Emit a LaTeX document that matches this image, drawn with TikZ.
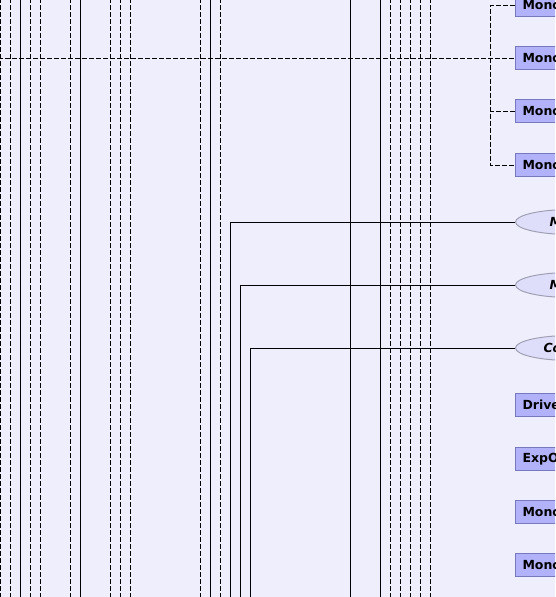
\documentclass[tikz,border=0pt]{standalone}
\usepackage{fontspec}
\setsansfont{DejaVu Sans}
\usetikzlibrary{shapes.geometric,positioning}

\definecolor{bgcol}{RGB}{238,238,252}
\definecolor{classfill}{RGB}{178,178,250}
\definecolor{classline}{RGB}{120,120,190}
\definecolor{ifacefill}{RGB}{222,222,250}
\definecolor{ifaceline}{RGB}{160,160,180}

\tikzset{
  classbox/.style={draw=classline, fill=classfill, anchor=west,
    minimum height=23pt, text width=70pt, align=left,
    inner xsep=7pt, inner ysep=0pt,
    font=\sffamily\bfseries\fontsize{12.5}{14}\selectfont},
  ifacebox/.style={ellipse, draw=ifaceline, fill=ifacefill, anchor=west,
    minimum height=25pt, minimum width=110pt, inner sep=0pt},
  ifacetext/.style={anchor=west, inner sep=0pt,
    font=\sffamily\bfseries\itshape\fontsize{12.5}{14}\selectfont},
  dep/.style={dashed, dash pattern=on 5pt off 2pt},
  link/.style={line width=1pt},
}

\begin{document}
\begin{tikzpicture}[x=1pt, y=-1pt, line width=1pt]

  % Background and frame
  \fill[bgcol] (0,0) rectangle (555,597);
  \useasboundingbox (0,0) rectangle (555,597);
  \clip (0,0) rectangle (555,597);

  % Lifelines coming from outside the view
  \foreach \x in {0.5,10.5,30.5,40.5,70.5,110.5,120.5,130.5,200.5,220.5,390.5,400.5,410.5,420.5,430.5}
    \draw[dep] (\x,-2) -- (\x,600);
  \foreach \x in {20.5,80.5,210.5,350.5,380.5}
    \draw[link] (\x,-2) -- (\x,600);

  % Classes on the right
  \node[classbox] (mono1) at (515,5)   {Mono};
  \node[classbox] (mono2) at (515,58)  {Mono};
  \node[classbox] (mono3) at (515,111) {Mono};
  \node[classbox] (mono4) at (515,165) {Mono};

  % Interfaces
  \node[ifacebox] (mgrA) at (515,222) {};
  \node[ifacetext, right=34pt of mgrA.west] {M};
  \node[ifacebox] (mgrB) at (515,285) {};
  \node[ifacetext, right=34pt of mgrB.west] {M};
  \node[ifacebox] (ctrl) at (515,348) {};
  \node[ifacetext, right=28pt of ctrl.west] {Co};

  % Lower classes
  \node[classbox] (drive) at (515,405) {Drive};
  \node[classbox] (expo)  at (515,459) {ExpO};
  \node[classbox] (mono5) at (515,512) {Mono};
  \node[classbox] (mono6) at (515,565) {Mono};

  % Dashed tree to the Mono classes
  \coordinate (tree) at (490.5,58);
  \coordinate (farleft) at (-2,58);
  \draw[dep] (mono1.west) -| (tree) |- (mono4.west);
  \draw[dep] (mono3.west) -- (mono3.west -| tree);
  \draw[dep] (farleft) -- (mono2.west);

  % Solid links from the interfaces
  \coordinate (downA) at (230.5,600);
  \coordinate (downB) at (240.5,600);
  \coordinate (downC) at (250.5,600);
  \draw[link] (mgrA.west) -| (downA);
  \draw[link] (mgrB.west) -| (downB);
  \draw[link] (ctrl.west) -| (downC);

\end{tikzpicture}
\end{document}
